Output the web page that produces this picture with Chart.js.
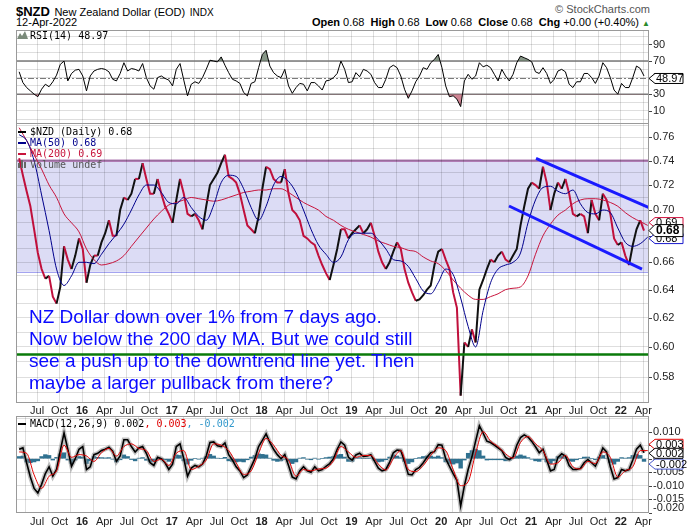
<!DOCTYPE html>
<html>
<head>
<meta charset="utf-8">
<script src="https://cdn.jsdelivr.net/npm/chart.js@4.4.1/dist/chart.umd.min.js"></script>
<style>
  body { margin: 0; background: #fff; }
  #wrap { position: relative; width: 700px; height: 530px; overflow: hidden; background: #fff;
          font-family: "Liberation Sans", Arial, sans-serif; color: #000; }
  #wrap canvas { position: absolute; left: 0; }
  .t { position: absolute; white-space: nowrap; line-height: 1; }
  .mono { font-family: "DejaVu Sans Mono", monospace; font-size: 10px; }
  .dash { display: inline-block; width: 8px; height: 2px; vertical-align: middle; margin-right: 4px; }
  .note { position: absolute; left: 29px; top: 306px; font-size: 19px; line-height: 22px; color: #0a0aff; white-space: nowrap; }
</style>
</head>
<body>
<div id="wrap">
  <canvas id="rsiChart" width="700" height="94" style="top:30px"></canvas>
  <canvas id="priceChart" width="700" height="294" style="top:123px"></canvas>
  <canvas id="macdChart" width="700" height="114" style="top:416px"></canvas>

  <div class="t" style="left:16px;top:3px"><b style="font-size:13px">$NZD</b> <span style="font-size:11px">New Zealand Dollar (EOD)</span> <span style="font-size:10px">INDX</span></div>
  <div class="t" style="left:16px;top:17px;font-size:11px">12-Apr-2022</div>
  <div class="t" style="right:50px;top:4px;font-size:11px;color:#555">&copy; StockCharts.com</div>
  <div class="t" style="right:50px;top:17px;font-size:11px"><b>Open</b> 0.68 &nbsp;<b>High</b> 0.68 &nbsp;<b>Low</b> 0.68 &nbsp;<b>Close</b> 0.68 &nbsp;<b>Chg</b> +0.00 (+0.40%) <span style="color:#2a8a2a;font-size:8px">&#9650;</span></div>

  <div class="t mono" style="left:17px;top:31px"><svg width="11" height="8" style="margin-right:2px"><polygon points="0,8 3,2 5,5 8,0 11,8" fill="#7a8a7a"/></svg>RSI(14) 48.97</div>

  <div class="t mono" style="left:18px;top:127px"><span class="dash" style="background:#000"></span>$NZD (Daily) 0.68</div>
  <div class="t mono" style="left:18px;top:138px;color:#00008c"><span class="dash" style="background:#00008c"></span>MA(50) 0.68</div>
  <div class="t mono" style="left:18px;top:149px;color:#c8143c"><span class="dash" style="background:#c8143c"></span>MA(200) 0.69</div>
  <div class="t mono" style="left:18px;top:160px;color:#555"><svg width="10" height="8" style="margin-right:2px"><rect x="0" y="3" width="2" height="5" fill="#666"/><rect x="3" y="0" width="2" height="8" fill="#666"/><rect x="6" y="2" width="2" height="6" fill="#666"/></svg>Volume undef</div>

  <div class="note">NZ Dollar down over 1% from 7 days ago.<br>Now below the 200 day MA. But we could still<br>see a push up to the downtrend line yet. Then<br>maybe a larger pullback from there?</div>

  <div class="t mono" style="left:18px;top:419px"><span class="dash" style="background:#000"></span>MACD(12,26,9) 0.002<span style="color:#e00000">, 0.003</span><span style="color:#3399cc">, -0.002</span></div>
</div>

<script>
const FONT = '"Liberation Sans", Arial, sans-serif';
const GRID = 'rgba(0,0,0,0.13)';

// time axis in decimal years, half-month samples from late April 2015
const startYear = 2015.30;
const halfMonth = 1 / 24;
const oneMonth = 1 / 12;
const xMin = 2015.265;
const xMax = 2022.314;
const xTickStart = 2015.5;
const xTickLabels = ['Jul','Oct','16','Apr','Jul','Oct','17','Apr','Jul','Oct','18','Apr','Jul','Oct',
                     '19','Apr','Jul','Oct','20','Apr','Jul','Oct','21','Apr','Jul','Oct','22','Apr'];

// $NZD close, half-monthly
const nzdClose = [
  0.742, 0.728, 0.715, 0.703, 0.685, 0.667, 0.655, 0.648, 0.650, 0.635,
  0.630, 0.642, 0.672, 0.662, 0.655, 0.665, 0.678, 0.670, 0.645, 0.658,
  0.665, 0.665, 0.675, 0.682, 0.692, 0.680, 0.680, 0.700, 0.710, 0.708,
  0.713, 0.725, 0.725, 0.738, 0.725, 0.713, 0.713, 0.725, 0.713, 0.703,
  0.697, 0.690, 0.708, 0.725, 0.713, 0.697, 0.695, 0.697, 0.692, 0.685,
  0.703, 0.720, 0.725, 0.730, 0.738, 0.745, 0.727, 0.725, 0.722, 0.713,
  0.700, 0.688, 0.685, 0.682, 0.695, 0.717, 0.735, 0.733, 0.725, 0.722,
  0.722, 0.733, 0.713, 0.700, 0.697, 0.692, 0.680, 0.678, 0.675, 0.673,
  0.665, 0.658, 0.652, 0.647, 0.658, 0.670, 0.685, 0.685, 0.678, 0.682,
  0.685, 0.688, 0.682, 0.685, 0.690, 0.680, 0.668, 0.660, 0.655, 0.660,
  0.668, 0.675, 0.670, 0.655, 0.645, 0.638, 0.632, 0.633, 0.636, 0.640,
  0.643, 0.658, 0.668, 0.670, 0.662, 0.655, 0.638, 0.627, 0.568, 0.603,
  0.600, 0.612, 0.603, 0.640, 0.647, 0.655, 0.662, 0.660, 0.665, 0.668,
  0.662, 0.660, 0.665, 0.670, 0.688, 0.703, 0.717, 0.722, 0.720, 0.717,
  0.735, 0.722, 0.700, 0.713, 0.722, 0.717, 0.725, 0.713, 0.697, 0.695,
  0.697, 0.695, 0.682, 0.708, 0.697, 0.692, 0.713, 0.708, 0.697, 0.678,
  0.673, 0.675, 0.665, 0.658, 0.673, 0.685, 0.692, 0.684
];

// moving averages, monthly
const ma50 = [
  0.762, 0.757, 0.740, 0.712, 0.684, 0.655, 0.643, 0.650, 0.660, 0.660,
  0.659, 0.666, 0.674, 0.681, 0.689, 0.700, 0.712, 0.720, 0.720, 0.714,
  0.706, 0.705, 0.710, 0.702, 0.695, 0.692, 0.704, 0.722, 0.728, 0.727,
  0.717, 0.702, 0.692, 0.703, 0.720, 0.727, 0.723, 0.714, 0.700, 0.685,
  0.673, 0.666, 0.660, 0.664, 0.677, 0.682, 0.682, 0.682, 0.677, 0.670,
  0.662, 0.661, 0.657, 0.648, 0.639, 0.637, 0.645, 0.655, 0.651, 0.634,
  0.614, 0.600, 0.625, 0.645, 0.655, 0.658, 0.660, 0.667, 0.690, 0.708,
  0.718, 0.719, 0.715, 0.713, 0.716, 0.705, 0.698, 0.697, 0.700, 0.698,
  0.686, 0.675, 0.672, 0.674, 0.679
];
const ma200 = [
  0.768, 0.757, 0.745, 0.733, 0.720, 0.710, 0.697, 0.690, 0.683, 0.670,
  0.662, 0.658, 0.659, 0.661, 0.665, 0.672, 0.679, 0.686, 0.693, 0.699,
  0.704, 0.706, 0.708, 0.710, 0.709, 0.708, 0.707, 0.708, 0.710, 0.712,
  0.714, 0.715, 0.716, 0.716, 0.717, 0.717, 0.714, 0.710, 0.706, 0.703,
  0.700, 0.695, 0.692, 0.688, 0.685, 0.683, 0.681, 0.679, 0.676, 0.674,
  0.672, 0.671, 0.669, 0.668, 0.664, 0.661, 0.659, 0.654, 0.647, 0.641,
  0.636, 0.633, 0.633, 0.635, 0.637, 0.640, 0.641, 0.642, 0.650, 0.666,
  0.680, 0.689, 0.696, 0.700, 0.705, 0.708, 0.709, 0.709, 0.708, 0.706,
  0.703, 0.698, 0.694, 0.691, 0.688
];

// RSI(14), half-monthly
const rsi14 = [
  57, 44, 38, 34, 30, 27, 36, 42, 39, 45,
  53, 66, 70, 46, 55, 59, 60, 52, 34, 52,
  58, 60, 61, 60, 57, 48, 46, 55, 68, 58,
  61, 60, 58, 67, 50, 40, 36, 50, 52, 49,
  47, 40, 60, 67, 47, 28, 42, 45, 43, 50,
  60, 71, 70, 69, 75, 65, 56, 48, 46, 43,
  32, 28, 43, 45, 62, 78, 83, 64, 56, 52,
  50, 60, 40, 31, 38, 43, 42, 34, 44, 44,
  40, 35, 46, 47, 50, 55, 70, 60, 44, 45,
  56, 51, 60, 58, 54, 44, 38, 38, 48, 62,
  65, 62, 52, 36, 25, 34, 45, 52, 62, 60,
  68, 72, 78, 62, 40, 27, 28, 24, 15, 46,
  54, 48, 52, 68, 63, 65, 62, 54, 46, 60,
  52, 46, 54, 68, 76, 74, 72, 69, 57, 55,
  62, 55, 43, 48, 58, 60, 57, 42, 38, 45,
  45, 55, 55, 50, 43, 52, 68, 62, 50, 35,
  30, 43, 38, 38, 50, 64, 61, 52
];

// MACD(12,26,9): line and histogram half-monthly, signal monthly
const macdLine = [
  0.0035, 0.0040, -0.0015, -0.0068, -0.0110, -0.0127, -0.0095, -0.0055, -0.0030, -0.0065,
  -0.0040, 0.0030, 0.0095, 0.0035, -0.0028, 0.0000, 0.0035, 0.0045, -0.0040, -0.0030,
  0.0015, 0.0020, 0.0030, 0.0035, 0.0042, 0.0028, -0.0010, 0.0010, 0.0070, 0.0070,
  0.0045, 0.0025, 0.0040, 0.0045, 0.0020, -0.0015, -0.0025, 0.0005, 0.0000, -0.0015,
  -0.0040, -0.0020, 0.0045, 0.0055, 0.0000, -0.0065, -0.0035, -0.0025, -0.0030, -0.0020,
  0.0010, 0.0060, 0.0062, 0.0048, 0.0045, 0.0058, 0.0015, -0.0005, -0.0030, -0.0045,
  -0.0070, -0.0060, -0.0030, 0.0000, 0.0045, 0.0068, 0.0092, 0.0060, 0.0035, 0.0015,
  0.0000, 0.0015, -0.0025, -0.0068, -0.0075, -0.0045, -0.0030, -0.0045, -0.0050, -0.0030,
  -0.0045, -0.0040, -0.0028, -0.0018, 0.0000, 0.0035, 0.0062, 0.0050, 0.0005, -0.0005,
  0.0014, 0.0020, 0.0008, 0.0010, 0.0015, -0.0010, -0.0035, -0.0045, -0.0040, -0.0014,
  0.0022, 0.0032, 0.0030, -0.0010, -0.0058, -0.0060, -0.0040, -0.0032, -0.0015, 0.0005,
  0.0022, 0.0026, 0.0052, 0.0050, 0.0000, -0.0028, -0.0055, -0.0080, -0.0175, -0.0100,
  -0.0040, 0.0006, 0.0065, 0.0122, 0.0095, 0.0065, 0.0060, 0.0050, 0.0040, 0.0030,
  0.0005, -0.0003, 0.0006, 0.0050, 0.0078, 0.0088, 0.0080, 0.0064, 0.0044, 0.0022,
  0.0035, -0.0005, -0.0045, -0.0040, 0.0005, 0.0018, 0.0010, -0.0025, -0.0040, -0.0040,
  -0.0036, -0.0015, -0.0003, -0.0015, -0.0028, 0.0003, 0.0040, 0.0025, -0.0030, -0.0075,
  -0.0070, -0.0040, -0.0045, -0.0040, -0.0005, 0.0035, 0.0050, 0.0022
];
const macdHist = [
  0.0008, 0.0010, -0.0012, -0.0015, -0.0012, -0.0008, 0.0008, 0.0015, 0.0012, -0.0005,
  0.0005, 0.0018, 0.0022, -0.0005, -0.0018, -0.0005, 0.0008, 0.0006, -0.0018, -0.0008,
  0.0008, 0.0005, 0.0004, 0.0003, 0.0004, -0.0002, -0.0012, -0.0004, 0.0014, 0.0008,
  -0.0003, -0.0008, 0.0002, 0.0004, -0.0006, -0.0012, -0.0010, 0.0002, 0.0000, -0.0004,
  -0.0010, -0.0002, 0.0014, 0.0012, -0.0008, -0.0020, -0.0006, 0.0000, -0.0002, 0.0002,
  0.0008, 0.0016, 0.0010, 0.0002, 0.0000, 0.0005, -0.0008, -0.0010, -0.0012, -0.0010,
  -0.0012, -0.0004, 0.0006, 0.0012, 0.0018, 0.0016, 0.0014, 0.0002, -0.0006, -0.0010,
  -0.0008, -0.0002, -0.0010, -0.0018, -0.0012, 0.0002, 0.0004, -0.0002, -0.0004, 0.0002,
  -0.0002, 0.0000, 0.0004, 0.0006, 0.0008, 0.0014, 0.0016, 0.0006, -0.0010, -0.0010,
  0.0002, 0.0004, 0.0000, 0.0000, 0.0002, -0.0006, -0.0012, -0.0010, -0.0004, 0.0006,
  0.0014, 0.0010, 0.0004, -0.0010, -0.0018, -0.0012, 0.0000, 0.0004, 0.0008, 0.0010,
  0.0010, 0.0006, 0.0010, 0.0004, -0.0012, -0.0018, -0.0020, -0.0016, -0.0035, -0.0005,
  0.0020, 0.0030, 0.0035, 0.0030, 0.0010, -0.0005, -0.0004, -0.0004, -0.0004, -0.0004,
  -0.0008, -0.0006, 0.0000, 0.0010, 0.0014, 0.0010, 0.0004, -0.0002, -0.0008, -0.0010,
  -0.0002, -0.0012, -0.0018, -0.0008, 0.0008, 0.0010, 0.0004, -0.0008, -0.0010, -0.0004,
  0.0000, 0.0006, 0.0006, 0.0000, -0.0004, 0.0006, 0.0012, 0.0002, -0.0014, -0.0020,
  -0.0010, 0.0004, 0.0002, 0.0004, 0.0012, 0.0016, 0.0012, -0.0010
];
const macdSignal = [
  0.0025, 0.0020, -0.0060, -0.0110, -0.0065, -0.0045, 0.0050, 0.0005, 0.0015, 0.0010,
  -0.0010, 0.0022, 0.0038, 0.0010, 0.0045, 0.0055, 0.0038, 0.0030, -0.0010, -0.0002,
  -0.0025, 0.0020, 0.0030, -0.0040, -0.0028, -0.0005, 0.0055, 0.0050, 0.0030, -0.0015,
  -0.0058, -0.0045, 0.0020, 0.0075, 0.0050, 0.0012, -0.0005, -0.0065, -0.0040, -0.0045,
  -0.0038, -0.0035, -0.0008, 0.0045, 0.0025, 0.0005, 0.0012, 0.0012, -0.0020, -0.0042,
  0.0000, 0.0030, -0.0040, -0.0048, -0.0025, 0.0012, 0.0040, 0.0030, -0.0040, -0.0100,
  -0.0085, 0.0020, 0.0100, 0.0065, 0.0045, 0.0018, 0.0002, 0.0060, 0.0082, 0.0055,
  0.0030, -0.0020, -0.0015, 0.0012, -0.0030, -0.0038, -0.0010, -0.0018, 0.0025, 0.0005,
  -0.0068, -0.0045, -0.0030, 0.0030, 0.0030
];

// annotations drawn on the price panel
const rangeTop = 0.74;
const rangeBottom = 0.653;
const supportLevel = 0.595;
const upperTrend = [{ x: 2021.056, y: 0.742 }, { x: 2022.325, y: 0.7016 }];
const lowerTrend = [{ x: 2020.755, y: 0.7032 }, { x: 2022.236, y: 0.655 }];

// right axis labels and grid steps
const rsiLabels = ['90', '70', '50', '30', '10'];
const rsiGrid = [0, 10, 20, 30, 40, 50, 60, 70, 80, 90, 100];
const priceLabels = ['0.76', '0.74', '0.72', '0.70', '0.68', '0.66', '0.64', '0.62', '0.60', '0.58'];
const priceGrid = [0.57, 0.58, 0.59, 0.60, 0.61, 0.62, 0.63, 0.64, 0.65, 0.66, 0.67,
                   0.68, 0.69, 0.70, 0.71, 0.72, 0.73, 0.74, 0.75, 0.76, 0.77];
const macdLabels = ['0.010', '0.005', '0.000', '-0.005', '-0.010', '-0.015', '-0.020'];
const macdGrid = [-0.020, -0.015, -0.010, -0.005, 0, 0.005, 0.010, 0.015];

const series = (vals, step) => vals.map((v, i) => ({ x: startYear + i * step, y: v }));

function timeAxis(showLabels, height, pad) {
  return {
    type: 'linear', min: xMin, max: xMax, bounds: 'data', offset: false,
    afterBuildTicks: s => { s.ticks = xTickLabels.map((_, k) => ({ value: xTickStart + k * 0.25 })); },
    afterFit: s => { s.height = height; },
    grid: { color: GRID, drawTicks: false },
    border: { display: false },
    ticks: {
      display: showLabels, autoSkip: false, maxRotation: 0, padding: pad, color: '#222',
      callback: (v, k) => xTickLabels[k],
      font: c => ({ family: FONT, size: 11, weight: /^\d/.test(xTickLabels[c.index] || '') ? 'bold' : 'normal' })
    }
  };
}

function valueAxis(type, min, max, grid) {
  return {
    type, position: 'right', min, max, bounds: 'data',
    afterBuildTicks: s => { s.ticks = grid.map(v => ({ value: v })); },
    afterFit: s => { s.width = 51; },
    grid: { color: GRID, drawTicks: false },
    border: { display: false },
    ticks: { display: false }
  };
}

function drawTag(ctx, x0, y, text, color, bold) {
  const h = bold ? 12 : 10, w = 34;
  ctx.beginPath();
  ctx.moveTo(x0, y);
  ctx.lineTo(x0 + 6, y - h / 2);
  ctx.lineTo(x0 + w, y - h / 2);
  ctx.lineTo(x0 + w, y + h / 2);
  ctx.lineTo(x0 + 6, y + h / 2);
  ctx.closePath();
  ctx.fillStyle = '#fff';
  ctx.fill();
  ctx.strokeStyle = color;
  ctx.lineWidth = 1;
  ctx.stroke();
  ctx.fillStyle = '#000';
  ctx.font = (bold ? 'bold 12px ' : '11px ') + FONT;
  ctx.textAlign = 'left';
  ctx.textBaseline = 'middle';
  ctx.fillText(text, x0 + 7, y + 0.5);
}

// frame, right-hand labels and value tags for each panel
const panelPlugin = {
  id: 'panel',
  beforeDraw(chart, _a, o) { if (o.under) o.under(chart); },
  beforeDatasetsDraw(chart, _a, o) { if (o.mid) o.mid(chart); },
  afterDraw(chart, _a, o) {
    const { ctx, chartArea: a } = chart;
    const ys = chart.scales.y;
    ctx.save();
    ctx.strokeStyle = '#9a9a9a';
    ctx.lineWidth = 1;
    ctx.strokeRect(a.left + 0.5, a.top + 0.5, a.right - a.left - 1, a.bottom - a.top - 1);
    ctx.font = '11px ' + FONT;
    ctx.fillStyle = '#222';
    ctx.textBaseline = 'middle';
    ctx.textAlign = 'left';
    o.labels.forEach(t => {
      const py = ys.getPixelForValue(Number(t));
      ctx.fillStyle = '#444';
      ctx.fillRect(a.right, Math.round(py), 3, 1);
      ctx.fillStyle = '#222';
      ctx.fillText(t, a.right + 4, Math.min(py, a.bottom - 5));
    });
    // tags: anchor tag at its value, others pushed away from it
    const anchor = o.tags.find(t => t.anchor);
    const ay = ys.getPixelForValue(anchor.v);
    const placed = o.tags.map(t => {
      let y = ys.getPixelForValue(t.v);
      if (!t.anchor) y = t.v > anchor.v ? Math.min(y, ay - o.gap) : Math.max(y, ay + o.gap);
      return { ...t, y };
    });
    placed.filter(t => !t.anchor).concat(placed.filter(t => t.anchor))
      .forEach(t => drawTag(ctx, a.right, t.y, t.text, t.color, t.anchor && o.boldAnchor));
    ctx.restore();
  }
};

const baseOptions = {
  responsive: false, animation: false, devicePixelRatio: 1, events: [],
  layout: { padding: { left: 16, right: 0, top: 0, bottom: 0 } },
  elements: { point: { radius: 0 } }
};

// RSI panel
new Chart(document.getElementById('rsiChart'), {
  type: 'line',
  data: {
    datasets: [
      { data: series(rsi14, halfMonth), borderColor: '#000', borderWidth: 1, pointRadius: 0 },
      { data: series(rsi14, halfMonth), borderWidth: 0, pointRadius: 0,
        fill: { target: { value: 70 }, above: 'rgba(95,115,95,0.75)', below: 'rgba(0,0,0,0)' } },
      { data: series(rsi14, halfMonth), borderWidth: 0, pointRadius: 0,
        fill: { target: { value: 30 }, above: 'rgba(0,0,0,0)', below: 'rgba(190,90,110,0.75)' } }
    ]
  },
  options: {
    ...baseOptions,
    plugins: {
      legend: { display: false }, tooltip: { enabled: false },
      panel: {
        labels: rsiLabels, gap: 9, boldAnchor: false,
        tags: [{ v: 48.97, text: '48.97', color: '#000', anchor: true }],
        mid(chart) {
          const { ctx, chartArea: a } = chart;
          const ys = chart.scales.y;
          ctx.save();
          ctx.strokeStyle = '#7a7a7a';
          ctx.lineWidth = 1.5;
          [70, 30].forEach(v => {
            const py = ys.getPixelForValue(v);
            ctx.beginPath(); ctx.moveTo(a.left, py); ctx.lineTo(a.right, py); ctx.stroke();
          });
          ctx.lineWidth = 1;
          ctx.setLineDash([6, 2, 2, 2]);
          const p50 = Math.round(ys.getPixelForValue(50)) + 0.5;
          ctx.beginPath(); ctx.moveTo(a.left, p50); ctx.lineTo(a.right, p50); ctx.stroke();
          ctx.restore();
        }
      }
    },
    scales: { x: timeAxis(false, 0, 0), y: valueAxis('linear', -6, 107.5, rsiGrid) }
  },
  plugins: [panelPlugin]
});

// price panel
new Chart(document.getElementById('priceChart'), {
  type: 'line',
  data: {
    datasets: [
      { data: upperTrend, borderColor: '#1a1aff', borderWidth: 3, pointRadius: 0 },
      { data: lowerTrend, borderColor: '#1a1aff', borderWidth: 3, pointRadius: 0 },
      { data: [{ x: xMin, y: supportLevel }, { x: xMax, y: supportLevel }], borderColor: '#0a7a0a', borderWidth: 2.5, pointRadius: 0 },
      { data: series(ma50, oneMonth), borderColor: '#00008c', borderWidth: 1, pointRadius: 0, cubicInterpolationMode: 'monotone' },
      { data: series(ma200, oneMonth), borderColor: '#c8143c', borderWidth: 1, pointRadius: 0, cubicInterpolationMode: 'monotone' },
      { data: series(nzdClose, halfMonth), borderColor: '#c0103c', borderWidth: 2, pointRadius: 0,
        segment: { borderColor: c => (c.p1.parsed.y > c.p0.parsed.y ? '#111' : '#c0103c') } }
    ]
  },
  options: {
    ...baseOptions,
    plugins: {
      legend: { display: false }, tooltip: { enabled: false },
      panel: {
        labels: priceLabels, gap: 8, boldAnchor: true,
        tags: [
          { v: ma200[ma200.length - 1], text: '0.69', color: '#d0103c' },
          { v: ma50[ma50.length - 1], text: '0.68', color: '#1a1acc' },
          { v: nzdClose[nzdClose.length - 1], text: '0.68', color: '#000', anchor: true }
        ],
        under(chart) {
          const { ctx, chartArea: a } = chart;
          const ys = chart.scales.y;
          const top = ys.getPixelForValue(rangeTop), bot = ys.getPixelForValue(rangeBottom);
          ctx.save();
          ctx.fillStyle = '#dcdcf5';
          ctx.fillRect(a.left, top, a.right - a.left, bot - top);
          ctx.strokeStyle = '#a4a4f0';
          ctx.lineWidth = 1;
          ctx.beginPath();
          ctx.moveTo(a.left, Math.round(bot) + 0.5); ctx.lineTo(a.right - 0.5, Math.round(bot) + 0.5);
          ctx.lineTo(a.right - 0.5, top);
          ctx.stroke();
          ctx.strokeStyle = '#b07cb4';
          ctx.lineWidth = 2.5;
          ctx.beginPath(); ctx.moveTo(a.left, top); ctx.lineTo(a.right, top); ctx.stroke();
          ctx.restore();
        }
      }
    },
    scales: { x: timeAxis(true, 14, 1), y: valueAxis('logarithmic', 0.5633, 0.7721, priceGrid) }
  },
  plugins: [panelPlugin]
});

// MACD panel
new Chart(document.getElementById('macdChart'), {
  type: 'line',
  data: {
    datasets: [
      { data: series(macdSignal, oneMonth), borderColor: '#e00000', borderWidth: 1, pointRadius: 0, cubicInterpolationMode: 'monotone' },
      { data: series(macdLine, halfMonth), borderColor: '#000', borderWidth: 1.6, pointRadius: 0 },
      { data: series(macdLine, halfMonth), borderColor: 'rgba(140,140,140,0.55)', borderWidth: 4.5, pointRadius: 0 },
      { type: 'bar', data: series(macdHist, halfMonth), backgroundColor: '#2f7190',
        barPercentage: 1, categoryPercentage: 1 }
    ]
  },
  options: {
    ...baseOptions,
    plugins: {
      legend: { display: false }, tooltip: { enabled: false },
      panel: {
        labels: macdLabels, gap: 9, boldAnchor: false,
        tags: [
          { v: 0.003, text: '0.003', color: '#e00000' },
          { v: -0.002, text: '-0.002', color: '#4455cc' },
          { v: 0.002, text: '0.002', color: '#000', anchor: true }
        ]
      }
    },
    scales: { x: timeAxis(true, 17, 2), y: valueAxis('linear', -0.0201, 0.0158, macdGrid) }
  },
  plugins: [panelPlugin]
});
</script>
</body>
</html>
